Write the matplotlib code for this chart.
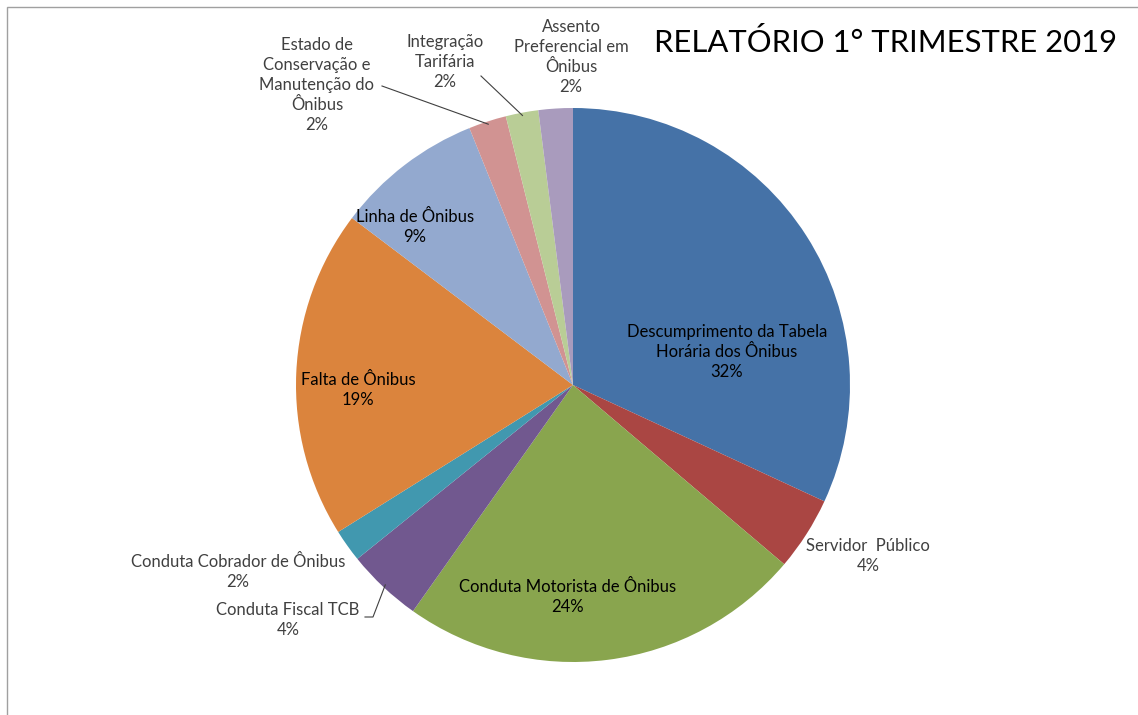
import numpy as np
import matplotlib
matplotlib.use("Agg")
from matplotlib import pyplot as plt
from matplotlib.patches import Rectangle

plt.rcParams['font.family'] = ['Lato', 'DejaVu Sans']

categories = [
    "Descumprimento da Tabela\nHorária dos Ônibus",
    "Servidor  Público",
    "Conduta Motorista de Ônibus",
    "Conduta Fiscal TCB",
    "Conduta Cobrador de Ônibus",
    "Falta de Ônibus",
    "Linha de Ônibus",
    "Estado de\nConservação e\nManutenção do\nÔnibus",
    "Integração\nTarifária",
    "Assento\nPreferencial em\nÔnibus",
]
percent = [31.9, 4.3, 23.6, 4.4, 1.9, 19.2, 8.6, 2.2, 1.9, 2.0]
colors = ["#4572A7", "#AA4643", "#89A54E", "#71588F", "#4198AF",
          "#DB843D", "#93A9CF", "#D19392", "#B9CD96", "#A99BBD"]

# label placement (pixel coords, y from top)
label_pos = {
    0: (727, 352), 1: (868, 556), 2: (568, 597), 3: (288, 620),
    4: (238, 572), 5: (358, 390), 6: (415, 227), 7: (317, 85),
    8: (445, 62), 9: (571, 57),
}
inside = {0, 2, 5, 6}
leaders = {3: (365, 617), 7: (382, 86), 8: (481, 76)}

W, H = 1138, 715
fig = plt.figure(figsize=(W / 100, H / 100), dpi=100)
ax = fig.add_axes([0, 0, 1, 1])

cx, cy, r = 573, H - 385, 277
wedges, _ = ax.pie(percent, colors=colors, startangle=90, counterclock=False,
                   center=(cx, cy), radius=r, frame=True,
                   wedgeprops=dict(linewidth=0))
ax.set_xlim(0, W)
ax.set_ylim(0, H)
ax.set_aspect("equal")
ax.axis("off")

for i, (name, p) in enumerate(zip(categories, percent)):
    x, y = label_pos[i]
    txt = name + "\n" + "%d%%" % round(p)
    col = "black" if i in inside else "#404040"
    ax.text(x, H - y, txt, ha="center", va="center", fontsize=12,
            color=col, linespacing=1.3)
    if i in leaders:
        w = wedges[i]
        mid = np.deg2rad((w.theta1 + w.theta2) / 2)
        ex, ey = cx + r * 0.99 * np.cos(mid), cy + r * 0.99 * np.sin(mid)
        sx, sy = leaders[i]
        sy = H - sy
        ax.plot([sx, sx + 8 * (i == 3), ex],
                [sy, sy, ey], color="#404040", lw=0.8)

ax.text(1117, H - 42, "RELATÓRIO 1° TRIMESTRE 2019", ha="right", va="center",
        fontsize=22.3, color="black")

ax.add_patch(Rectangle((7, -10), W + 20, H - 7 + 10, fill=False,
                       edgecolor="#A0A0A0", lw=1))

fig.savefig("out.png", dpi=100)
